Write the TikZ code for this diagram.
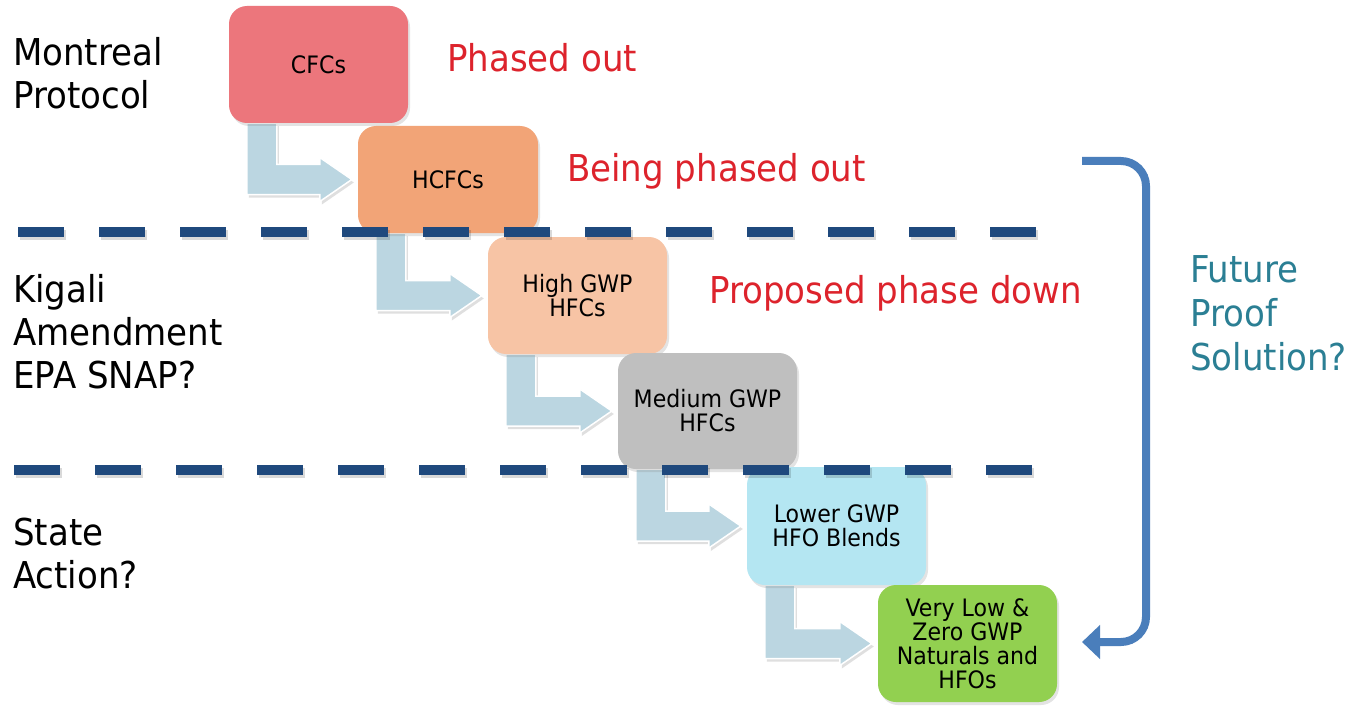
\documentclass[tikz,border=0pt]{standalone}
\usepackage{fontspec}
\setmainfont{DejaVu Sans}[FakeStretch=0.92]
\usetikzlibrary{calc,shadows,arrows.meta}
\definecolor{cfc}{HTML}{EC767C}
\definecolor{hcfc}{HTML}{F2A477}
\definecolor{highgwp}{HTML}{F7C4A5}
\definecolor{medgwp}{HTML}{BFBFBF}
\definecolor{lowgwp}{HTML}{B4E6F2}
\definecolor{zerogwp}{HTML}{92D050}
\definecolor{arrowblue}{HTML}{BBD6E1}
\definecolor{dashnavy}{HTML}{1F497D}
\definecolor{phasered}{HTML}{DD232C}
\definecolor{tealtxt}{HTML}{2B7F94}
\definecolor{bracketblue}{HTML}{4A7EBB}
\tikzset{
  box/.style={rectangle, rounded corners=18pt, inner sep=0pt, minimum width=179pt,
    align=center, font=\fontsize{24}{24}\selectfont, text=black,
    drop shadow={opacity=0.22, shadow xshift=2pt, shadow yshift=-3pt}},
  ghostbox/.style={rectangle, inner sep=0pt, minimum width=179pt},
  arrowfill/.style={fill=arrowblue, draw=white, line width=1.5pt,
    drop shadow={opacity=0.25, shadow xshift=2pt, shadow yshift=-3pt}},
  dashline/.style={draw=dashnavy, line width=10.5pt, dash pattern=on 46pt off 35pt},
  dashshadow/.style={draw=black, opacity=0.15, line width=10.5pt, dash pattern=on 46pt off 35pt},
  biglabel/.style={anchor=base west, inner sep=0pt, font=\fontsize{37}{43}\selectfont, text=black},
  redlabel/.style={anchor=base west, inner sep=0pt, font=\fontsize{37}{43}\selectfont, text=phasered},
  teallabel/.style={anchor=base west, inner sep=0pt, font=\fontsize{37}{44}\selectfont, text=tealtxt},
  bracket/.style={draw=bracketblue, line width=8pt, rounded corners=25pt,
    -{Triangle[length=18pt, width=33pt]}}
}
\newcommand\flowarrow[2]{%
  \path[arrowfill] let \p1=(#1.south west), \p2=(#2.west) in
    (\x1+18pt,\y1) -- (\x1+18pt,\y2-15pt) -- (\x2-38pt,\y2-15pt) -- (\x2-38pt,\y2-22pt)
    -- (\x2-6pt,\y2) -- (\x2-38pt,\y2+22pt) -- (\x2-38pt,\y2+15pt) -- (\x1+48pt,\y2+15pt)
    -- (\x1+48pt,\y1) -- cycle;}
\begin{document}
\begin{tikzpicture}[x=1pt, y=-1pt]
\useasboundingbox (0,0) rectangle (1352,706);
\fill[white] (0,0) rectangle (1352,706);

\path (318.5,64.5) coordinate (c1) (448,179.5) coordinate (c2) (577.5,295.5) coordinate (c3)
      (707.5,411) coordinate (c4) (836.5,526) coordinate (c5) (967.5,643.5) coordinate (c6);

% invisible frames giving the anchors for the arrows
\node[ghostbox, minimum height=117pt] (g1) at (c1) {};
\node[ghostbox, minimum height=107pt, minimum width=180pt] (g2) at (c2) {};
\node[ghostbox, minimum height=117pt] (g3) at (c3) {};
\node[ghostbox, minimum height=116pt] (g4) at (c4) {};
\node[ghostbox, minimum height=118pt] (g5) at (c5) {};
\node[ghostbox, minimum height=117pt] (g6) at (c6) {};

\flowarrow{g1}{g2}
\flowarrow{g2}{g3}
\flowarrow{g3}{g4}
\flowarrow{g4}{g5}
\flowarrow{g5}{g6}

\node[box, fill=cfc, minimum height=117pt] (cfcs) at (c1) {CFCs};
\node[box, fill=hcfc, minimum height=107pt, minimum width=180pt] (hcfcs) at (c2) {HCFCs};
\node[box, fill=highgwp, minimum height=117pt] (high) at (c3) {High GWP\\HFCs};
\node[box, fill=medgwp, minimum height=116pt] (med) at (c4) {Medium GWP\\HFCs};
\node[box, fill=lowgwp, minimum height=118pt] (low) at (c5) {Lower GWP\\HFO Blends};
\node[box, fill=zerogwp, minimum height=117pt] (zero) at (c6) {Very Low \&\\Zero GWP\\Naturals and\\HFOs};

% dashed separators
\coordinate (d1s) at (18,232);  \coordinate (d1e) at (1037,232);
\coordinate (d2s) at (14,470);  \coordinate (d2e) at (1033,470);
\draw[dashshadow] ($(d1s)+(2,3)$) -- ($(d1e)+(2,3)$);
\draw[dashshadow] ($(d2s)+(2,3)$) -- ($(d2e)+(2,3)$);
\draw[dashline] (d1s) -- (d1e);
\draw[dashline] (d2s) -- (d2e);

% left labels
\node[biglabel] (montreal) at (13,66) {\vtop{\baselineskip=43pt\hbox{Montreal}\hbox{Protocol}}};
\node[biglabel] (kigali) at (13,302) {\vtop{\baselineskip=43pt\hbox{Kigali}\hbox{Amendment}\hbox{EPA SNAP?}}};
\node[biglabel] (state) at (13,545) {\vtop{\baselineskip=43pt\hbox{State}\hbox{Action?}}};

% red status labels
\node[redlabel] (phased) at (447,72) {Phased out};
\node[redlabel] (being) at (567,181) {Being phased out};
\node[redlabel] (proposed) at (709,303) {Proposed phase down};

% future proof bracket
\coordinate (bs) at (1082,161);
\coordinate (bc1) at (1146,161);
\coordinate (bc2) at (1146,642);
\coordinate (be) at (1082,642);
\draw[bracket] (bs) -- (bc1) -- (bc2) -- (be);
\node[teallabel] (future) at (1190,282) {\vtop{\baselineskip=44pt\hbox{Future}\hbox{Proof}\hbox{Solution?}}};
\end{tikzpicture}
\end{document}
